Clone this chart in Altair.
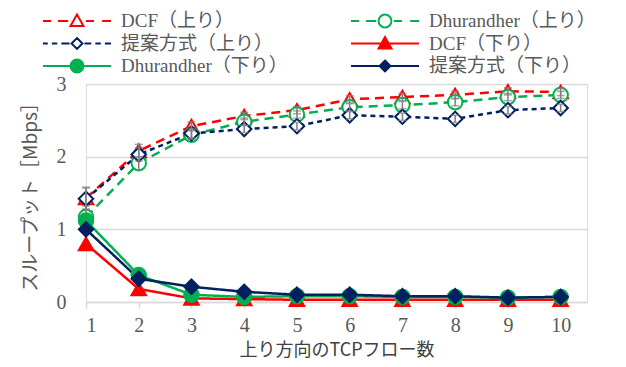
import altair as alt
import pandas as pd

# ---- data ----
x_vals = [1, 2, 3, 4, 5, 6, 7, 8, 9, 10]
dcf_up = [1.43, 2.08, 2.42, 2.56, 2.64, 2.79, 2.82, 2.85, 2.90, 2.89]
dhu_up = [1.17, 1.91, 2.30, 2.48, 2.58, 2.68, 2.71, 2.75, 2.82, 2.85]
prop_up = [1.42, 2.03, 2.32, 2.38, 2.42, 2.57, 2.55, 2.52, 2.64, 2.67]
dcf_down = [0.80, 0.18, 0.05, 0.04, 0.03, 0.03, 0.03, 0.03, 0.03, 0.03]
dhu_down = [1.12, 0.37, 0.10, 0.07, 0.08, 0.08, 0.07, 0.07, 0.06, 0.07]
prop_down = [1.00, 0.32, 0.21, 0.14, 0.10, 0.10, 0.08, 0.08, 0.06, 0.07]
err_up = [0.15, 0.09, 0.06, 0.05, 0.05, 0.05, 0.05, 0.05, 0.05, 0.05]

series_names = ["DCF（上り）", "Dhurandher（上り）", "提案方式（上り）",
                "DCF（下り）", "Dhurandher（下り）", "提案方式（下り）"]
series_values = [dcf_up, dhu_up, prop_up, dcf_down, dhu_down, prop_down]
series_dir = ["up", "up", "up", "down", "down", "down"]

colors = ["#FF0000", "#00B050", "#002060", "#FF0000", "#00B050", "#002060"]
fills = ["#FFFFFF", "#FFFFFF", "#FFFFFF", "#FF0000", "#00B050", "#002060"]
dashes = [[9, 6], [9, 6], [5, 4], [1, 0], [1, 0], [1, 0]]
markers = ["triangle-up", "circle", "diamond", "triangle-up", "circle", "diamond"]

rows = []
for name, vals, d in zip(series_names, series_values, series_dir):
    for i, (xv, v) in enumerate(zip(x_vals, vals)):
        e = err_up[i] if d == "up" else 0.0
        rows.append({"x": xv, "series": name, "value": v, "dir": d,
                     "lo": v - e, "hi": v + e})
df = pd.DataFrame(rows)

# legend symbols: line segments + marker in unit square
tri_o = "M-0.19,0.15L0,-0.19L0.19,0.15Z"
cir_o = "M0.19,0A0.19,0.19 0 1,1 -0.19,0A0.19,0.19 0 1,1 0.19,0Z"
dia_s = "M0,-0.16L0.16,0L0,0.16L-0.16,0Z"
dash_long = "M-1,0L-0.76,0M-0.56,0L-0.26,0M0.26,0L0.5,0M0.74,0L1,0"
dash_short = ("M-1,0L-0.86,0M-0.74,0L-0.58,0M-0.46,0L-0.22,0"
              "M0.22,0L0.42,0M0.54,0L0.7,0M0.82,0L1,0")
solid = "M-1,0L1,0"
legend_paths = [dash_long + tri_o, dash_long + cir_o, dash_short + dia_s,
                solid + tri_o, solid + cir_o, solid + dia_s]

# the legend is filled column by column: order entries so rows read like the reference
legend_order = [0, 2, 4, 1, 3, 5]
leg_names = [series_names[i] for i in legend_order]
leg_paths = [legend_paths[i] for i in legend_order]
leg_fills = [fills[i] for i in legend_order]
leg_colors = [colors[i] for i in legend_order]

GRAY = "#595959"
SERIF = "'Liberation Serif', 'Noto Sans CJK JP', serif"
SANS = "'Noto Sans CJK JP', sans-serif"

xscale = alt.Scale(domain=[1, 10.5], nice=False, zero=False)
yscale = alt.Scale(domain=[0, 3], nice=False)

X = alt.X("x:Q", scale=xscale,
          axis=alt.Axis(values=x_vals, format="d", grid=False,
                        domainColor="#D9D9D9", domainWidth=1.5,
                        tickColor="#D9D9D9", tickSize=6, tickWidth=1.5,
                        labelFont=SERIF, labelFontSize=20, labelColor=GRAY,
                        labelPadding=7,
                        title="上り方向のTCPフロー数", titleFont=SANS,
                        titleFontSize=18, titleFontWeight="normal",
                        titleColor="#404040", titleY=48,
                        titleBaseline="middle"))
Y = alt.Y("value:Q", scale=yscale,
          axis=alt.Axis(values=[0, 1, 2, 3], format="d", grid=True,
                        gridColor="#D9D9D9", gridWidth=1.5, domain=False,
                        ticks=False,
                        labelFont=SERIF, labelFontSize=20, labelColor=GRAY,
                        labelPadding=20,
                        title="スループット［Mbps］", titleFont=SANS,
                        titleFontSize=19, titleFontWeight="normal",
                        titleColor=GRAY, titleX=-56, titleY=108,
                        titleAngle=-90, titleAlign="center",
                        titleBaseline="middle"))

sc_color = alt.Scale(domain=series_names, range=colors)
sc_fill = alt.Scale(domain=series_names, range=fills)
sc_dash = alt.Scale(domain=series_names, range=dashes)
sc_shape = alt.Scale(domain=series_names, range=markers)

base = alt.Chart(df)


def lines(d):
    return base.transform_filter(alt.datum.dir == d).mark_line(
        strokeWidth=2.5).encode(
        x=X, y=Y,
        stroke=alt.Stroke("series:N", scale=sc_color, legend=None),
        strokeDash=alt.StrokeDash("series:N", scale=sc_dash, legend=None),
        detail="series:N")


def points(d):
    return base.transform_filter(alt.datum.dir == d).mark_point(
        size=210, strokeWidth=2, opacity=1).encode(
        x=X, y=Y,
        shape=alt.Shape("series:N", scale=sc_shape, legend=None),
        fill=alt.Fill("series:N", scale=sc_fill, legend=None),
        stroke=alt.Stroke("series:N", scale=sc_color, legend=None))


up = base.transform_filter(alt.datum.dir == "up")
err_rule = up.mark_rule(color="#7F7F7F", strokeWidth=1.5).encode(
    x=X, y=alt.Y("lo:Q", scale=yscale), y2="hi:Q")
err_lo = up.mark_tick(color="#7F7F7F", orient="horizontal", size=8,
                      thickness=1.5).encode(x=X, y=alt.Y("lo:Q", scale=yscale))
err_hi = up.mark_tick(color="#7F7F7F", orient="horizontal", size=8,
                      thickness=1.5).encode(x=X, y=alt.Y("hi:Q", scale=yscale))

leg = alt.Legend(title=None, orient="none", legendX=-44, legendY=-73,
                 columns=2, columnPadding=62, rowPadding=2.5, clipHeight=20,
                 symbolSize=4624, symbolStrokeWidth=2, symbolOpacity=1,
                 labelFont=SERIF, labelFontSize=19, labelColor=GRAY,
                 labelOffset=9, padding=0, labelLimit=300)
legend_layer = base.mark_point(opacity=0).encode(
    x=X, y=Y,
    shape=alt.Shape("series:N",
                    scale=alt.Scale(domain=leg_names, range=leg_paths),
                    legend=leg, sort=leg_names),
    fill=alt.Fill("series:N", scale=alt.Scale(domain=leg_names, range=leg_fills),
                  legend=leg, sort=leg_names),
    stroke=alt.Stroke("series:N",
                      scale=alt.Scale(domain=leg_names, range=leg_colors),
                      legend=leg, sort=leg_names))

chart = alt.layer(
    lines("up"), points("up"), err_rule, err_lo, err_hi,
    lines("down"), points("down"), legend_layer
).resolve_scale(
    shape="independent", fill="independent", stroke="independent",
    strokeDash="independent"
).properties(
    width=501, height=218,
    autosize=alt.AutoSizeParams(type="none"),
    padding={"left": 78, "top": 76, "right": 31, "bottom": 57},
).configure_view(stroke=None).configure(background="white")

chart.save("out.html", embed_options={"renderer": "svg", "actions": False})
